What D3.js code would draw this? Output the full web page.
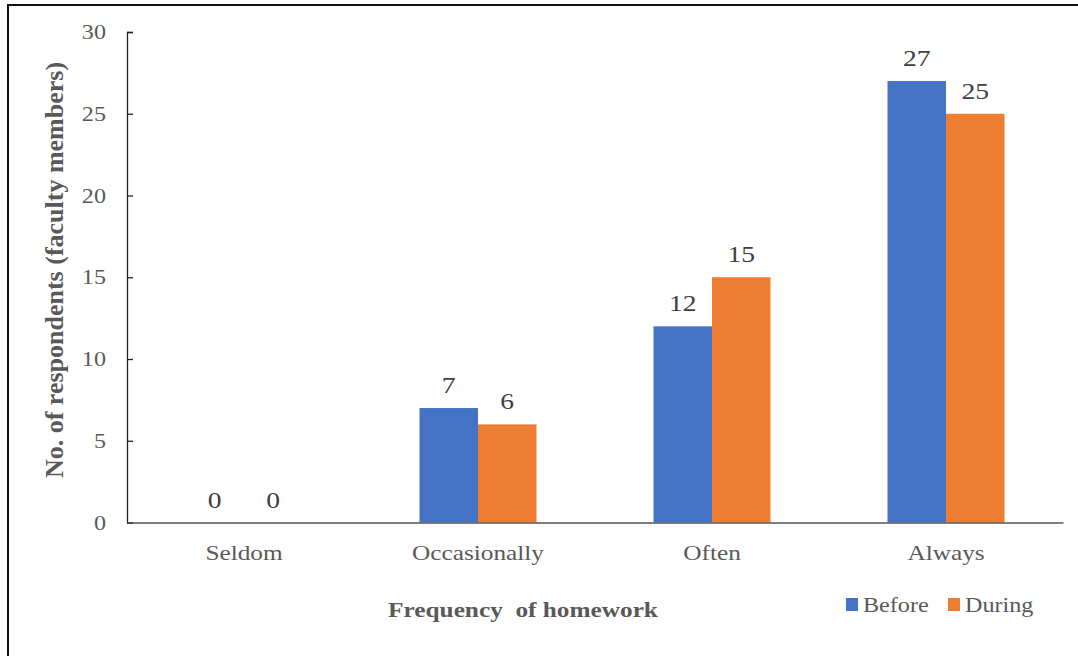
<!DOCTYPE html>
<html>
<head>
<meta charset="utf-8">
<script src="https://cdn.jsdelivr.net/npm/d3@7"></script>
<style>
  html, body { margin: 0; padding: 0; background: #fff; }
  svg { display: block; }
  text { font-family: "Liberation Serif", "Times New Roman", serif; }
</style>
</head>
<body>
<svg id="chart" width="1078" height="656"></svg>
<script>
const categories = ["Seldom", "Occasionally", "Often", "Always"];
const seriesNames = ["Before", "During"];
const beforeValues = [0, 7, 12, 27];
const duringValues = [0, 6, 15, 25];
const yTicks = [0, 5, 10, 15, 20, 25, 30];
const colors = ["#4472C4", "#ED7D31"];

const svg = d3.select("#chart");
const W = 1078, H = 656;
const stretch = 1.15; // horizontal widening applied to the serif labels

// outer frame
svg.append("rect").attr("x", 8).attr("y", 5).attr("width", W + 10).attr("height", H + 10)
  .attr("fill", "none").attr("stroke", "#111").attr("stroke-width", 2);

const plotLeft = 127, plotRight = 1063, plotTop = 32, plotBottom = 522.5;

const x = d3.scaleBand().domain(categories).range([plotLeft, plotRight]).paddingInner(0).paddingOuter(0);
const xs = d3.scaleBand().domain(seriesNames).range([0, x.bandwidth()]).paddingInner(0).paddingOuter(1);
const y = d3.scaleLinear().domain([0, 30]).range([plotBottom, plotTop]);

const rows = categories.map((c, i) => ({ cat: c, vals: [beforeValues[i], duringValues[i]] }));

// bars
const groups = svg.append("g").selectAll("g").data(rows).join("g")
  .attr("transform", d => `translate(${x(d.cat)},0)`);

const cells = d => d.vals.map((v, j) => ({ name: seriesNames[j], v, j }));

groups.selectAll("rect").data(cells)
  .join("rect")
  .attr("x", d => xs(d.name))
  .attr("y", d => y(d.v))
  .attr("width", xs.bandwidth())
  .attr("height", d => y(0) - y(d.v))
  .attr("fill", d => colors[d.j]);

// value labels above each bar
groups.selectAll("text").data(cells)
  .join("text")
  .attr("transform", d => `translate(${xs(d.name) + xs.bandwidth() / 2},${y(d.v) - 15}) scale(${stretch},1)`)
  .attr("text-anchor", "middle")
  .attr("font-size", 24)
  .attr("fill", "#404040")
  .text(d => d.v);

// y axis, ticks pointing into the plot
const yAxis = svg.append("g").attr("transform", `translate(${plotLeft},0)`)
  .call(d3.axisLeft(y).tickValues(yTicks).tickSize(-6));
yAxis.select(".domain").attr("stroke", "#222").attr("stroke-width", 1.3);
yAxis.selectAll(".tick line").attr("stroke", "#222").attr("stroke-width", 1.3);
yAxis.selectAll(".tick text")
  .attr("x", 0)
  .attr("transform", `translate(-21,0) scale(${stretch},1)`)
  .attr("font-size", 21).attr("fill", "#595959")
  .attr("font-family", "Liberation Serif, serif");

// x axis
const xAxis = svg.append("g").attr("transform", `translate(0,${plotBottom})`)
  .call(d3.axisBottom(x).tickSize(0));
xAxis.select(".domain").attr("stroke", "#555").attr("stroke-width", 1.5);
xAxis.selectAll(".tick text")
  .attr("y", 0).attr("dy", null)
  .attr("transform", `translate(0,37) scale(${stretch},1)`)
  .attr("font-size", 22).attr("fill", "#595959")
  .attr("font-family", "Liberation Serif, serif");

// axis titles
svg.append("text")
  .attr("transform", "translate(63,270) rotate(-90)")
  .attr("text-anchor", "middle")
  .attr("font-size", 26).attr("font-weight", "bold").attr("fill", "#595959")
  .text("No. of respondents (faculty members)");

svg.append("text")
  .attr("transform", `translate(523,617) scale(${stretch},1)`)
  .attr("text-anchor", "middle")
  .attr("font-size", 22).attr("font-weight", "bold").attr("fill", "#595959")
  .attr("xml:space", "preserve").style("white-space", "pre")
  .text("Frequency  of homework");

// legend
const legendX = [846, 948];
const legend = svg.append("g").selectAll("g").data(seriesNames).join("g")
  .attr("transform", (d, i) => `translate(${legendX[i]},598)`);
legend.append("rect").attr("width", 12).attr("height", 13).attr("fill", (d, i) => colors[i]);
legend.append("text")
  .attr("transform", `translate(17,14) scale(${stretch},1)`)
  .attr("font-size", 21).attr("fill", "#595959").text(d => d);
</script>
</body>
</html>
